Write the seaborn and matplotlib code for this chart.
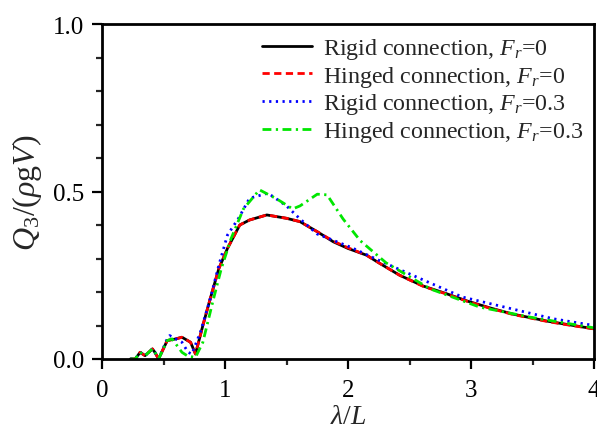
import numpy as np
import pandas as pd
import matplotlib
matplotlib.use("Agg")
import matplotlib.pyplot as plt
import seaborn as sns
from matplotlib.ticker import MultipleLocator

# ---- data ----
rigid0_x = [0.23, 0.27, 0.31, 0.35, 0.41, 0.43, 0.46, 0.53, 0.60, 0.65, 0.72, 0.76, 0.82, 0.88,
            0.95, 1.02, 1.12, 1.20, 1.34, 1.50, 1.61, 1.75, 1.88, 2.00, 2.15, 2.26, 2.42, 2.61,
            2.80, 2.97, 3.15, 3.34, 3.50, 3.62, 3.80, 4.00]
rigid0_y = [0.0, 0.0, 0.02, 0.01, 0.03, 0.02, 0.0, 0.055, 0.06, 0.065, 0.05, 0.015, 0.10, 0.18,
            0.27, 0.33, 0.40, 0.415, 0.43, 0.42, 0.41, 0.38, 0.35, 0.33, 0.31, 0.285, 0.25, 0.218,
            0.195, 0.173, 0.153, 0.134, 0.122, 0.113, 0.102, 0.09]

hinged0_x = rigid0_x
hinged0_y = [0.0, 0.0, 0.02, 0.01, 0.03, 0.02, 0.0, 0.055, 0.06, 0.065, 0.05, 0.015, 0.10, 0.18,
             0.27, 0.33, 0.40, 0.415, 0.43, 0.42, 0.41, 0.38, 0.352, 0.332, 0.31, 0.285, 0.25, 0.217,
             0.194, 0.172, 0.152, 0.133, 0.121, 0.112, 0.101, 0.09]

rigid3_x = [0.23, 0.27, 0.31, 0.35, 0.41, 0.43, 0.46, 0.53, 0.55, 0.60, 0.65, 0.70, 0.73, 0.80,
            0.88, 0.95, 1.02, 1.11, 1.20, 1.35, 1.50, 1.61, 1.75, 2.02, 2.26, 2.63, 2.93, 3.34,
            3.67, 4.00]
rigid3_y = [0.0, 0.0, 0.02, 0.01, 0.03, 0.02, 0.0, 0.06, 0.07, 0.06, 0.05, 0.02, 0.015, 0.08,
            0.18, 0.28, 0.37, 0.42, 0.48, 0.495, 0.457, 0.418, 0.373, 0.334, 0.293, 0.233, 0.185,
            0.149, 0.12, 0.10]

hinged3_x = [0.23, 0.27, 0.31, 0.35, 0.41, 0.43, 0.46, 0.53, 0.57, 0.61, 0.65, 0.70, 0.76, 0.82,
             0.90, 0.97, 1.05, 1.15, 1.28, 1.42, 1.55, 1.61, 1.75, 1.83, 1.96, 2.10, 2.31, 2.67,
             3.07, 3.48, 4.00]
hinged3_y = [0.0, 0.0, 0.02, 0.01, 0.03, 0.02, 0.0, 0.055, 0.06, 0.04, 0.02, 0.008, 0.005, 0.05,
             0.17, 0.27, 0.36, 0.448, 0.505, 0.478, 0.448, 0.457, 0.492, 0.49, 0.418, 0.353, 0.287,
             0.209, 0.155, 0.125, 0.093]

labels = [r"Rigid connection, $F_r$=0", r"Hinged connection, $F_r$=0",
          r"Rigid connection, $F_r$=0.3", r"Hinged connection, $F_r$=0.3"]

# ---- style ----
sns.set_theme(style="ticks")
plt.rcParams["font.family"] = ["Liberation Serif", "DejaVu Serif"]
plt.rcParams["mathtext.fontset"] = "custom"
plt.rcParams["mathtext.rm"] = "Liberation Serif"
plt.rcParams["mathtext.it"] = "Liberation Serif:italic"
plt.rcParams["mathtext.bf"] = "Liberation Serif:bold"

fig = plt.figure(figsize=(5.97, 4.31), dpi=100)
ax = fig.add_axes([102 / 597, 1 - 360 / 431, (594 - 102) / 597, (360 - 25) / 431])

series = [
    (rigid0_x, rigid0_y, "#000000", "-"),
    (hinged0_x, hinged0_y, "#ff0000", (0, (2.6, 1.6))),
    (rigid3_x, rigid3_y, "#0000ff", (0, (0.8, 1.6))),
    (hinged3_x, hinged3_y, "#00e600", (0, (3.2, 1.6, 0.8, 1.6))),
]
for (x, y, c, ls), lab in zip(series, labels):
    df = pd.DataFrame({"x": x, "y": y})
    sns.lineplot(data=df, x="x", y="y", ax=ax, color=c, linestyle=ls, linewidth=2.0,
                 label=lab, sort=False, errorbar=None)

ax.set_xlim(0, 4)
ax.set_ylim(0, 1.0)
ax.xaxis.set_major_locator(MultipleLocator(1))
ax.xaxis.set_minor_locator(MultipleLocator(0.5))
ax.yaxis.set_major_locator(MultipleLocator(0.5))
ax.yaxis.set_minor_locator(MultipleLocator(0.1))
ax.yaxis.set_major_formatter(matplotlib.ticker.FormatStrFormatter("%.1f"))
ax.tick_params(which="major", direction="out", length=7, width=1.6, labelsize=18,
               top=False, right=False, colors="black", pad=6)
ax.tick_params(axis="x", which="major", pad=7.5)
ax.tick_params(which="minor", direction="out", length=4, width=1.6, top=False, right=False)
for s in ax.spines.values():
    s.set_visible(True)
    s.set_linewidth(2.0)
    s.set_color("black")

ax.set_xlabel(r"$\lambda/L$", fontsize=20, labelpad=2)
ax.set_ylabel(r"$Q_3/(\rho\mathrm{g}V)$", fontsize=23, labelpad=6)

leg = ax.legend(loc="upper left", frameon=False, fontsize=17.3, handlelength=2.08,
                handletextpad=0.46, labelspacing=0.11, borderaxespad=0.0, borderpad=0.0,
                bbox_to_anchor=(0.325, 0.964))

fig.savefig("out.png", dpi=100)
